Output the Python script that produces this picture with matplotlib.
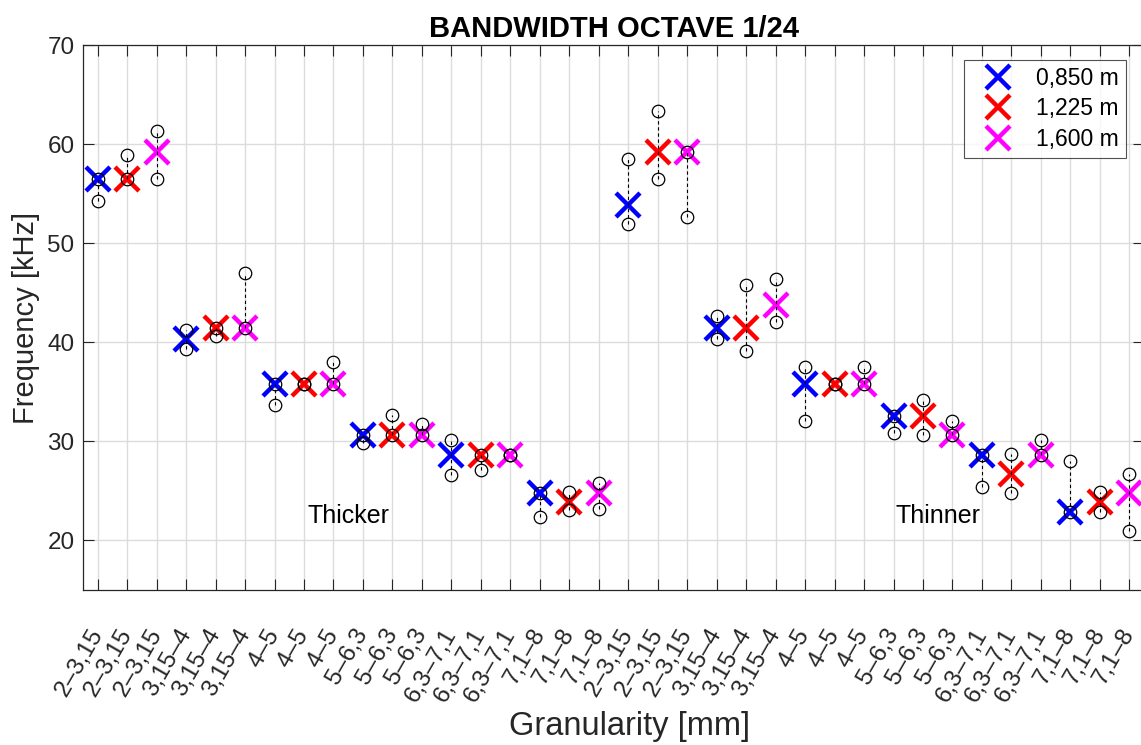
import matplotlib
matplotlib.use("Agg")
import matplotlib.pyplot as plt
import numpy as np

plt.rcParams['font.family'] = ['Liberation Sans', 'DejaVu Sans']

# Granularity classes, repeated for the thicker and thinner halves
granularity = ["2–3,15", "3,15–4", "4–5", "5–6,3", "6,3–7,1", "7,1–8"]
distances = ["0,850 m", "1,225 m", "1,600 m"]
series_colors = ["#0000ff", "#ff0000", "#ff00ff"]

tick_labels = [g for half in range(2) for g in granularity for _ in distances]

# Central frequency (kHz) per bar position, and the min / max of the measurements
center = [56.5, 56.5, 59.25, 40.3, 41.4, 41.4, 35.8, 35.8, 35.8,
          30.6, 30.6, 30.6, 28.6, 28.6, 28.6, 24.8, 23.9, 24.8,
          53.85, 59.25, 59.25, 41.4, 41.4, 43.8, 35.8, 35.8, 35.8,
          32.6, 32.6, 30.6, 28.6, 26.7, 28.6, 22.9, 23.85, 24.8]
low = [54.25, 56.5, 56.5, 39.35, 40.6, 41.4, 33.7, 35.8, 35.8,
       29.85, 30.6, 30.6, 26.65, 27.1, 28.6, 22.35, 23.05, 23.15,
       51.9, 56.5, 52.6, 40.3, 39.1, 42.05, 32.1, 35.8, 35.8,
       30.85, 30.6, 30.6, 25.35, 24.75, 28.6, 22.9, 22.85, 21.0]
high = [56.5, 58.95, 61.3, 41.2, 41.4, 46.95, 35.8, 35.8, 38.05,
        30.6, 32.7, 31.8, 30.1, 28.6, 28.6, 24.8, 24.9, 25.85,
        58.55, 63.35, 59.25, 42.7, 45.75, 46.35, 37.55, 35.8, 37.5,
        32.6, 34.2, 32.1, 28.6, 28.7, 30.1, 28.05, 24.85, 26.7]

fig = plt.figure(figsize=(11.41, 7.45), dpi=100)
ax = fig.add_axes([0.0727, 0.208, 0.93, 0.7315])

x = np.arange(1, len(center) + 1)
handles = []
for k, (name, col) in enumerate(zip(distances, series_colors)):
    idx = np.arange(k, len(center), len(distances))
    h, = ax.plot(x[idx], np.array(center)[idx], linestyle='none', marker='x',
                 markersize=17, markeredgewidth=3.2, color=col, label=name, zorder=3)
    handles.append(h)

# Spread of each measurement: dashed range with open circles at both ends
for xi, lo, hi in zip(x, low, high):
    ax.plot([xi, xi], [lo, hi], linestyle=(0, (3, 2.5)), color='black',
            linewidth=0.8, zorder=4)
    ax.plot([xi, xi], [lo, hi], linestyle='none', marker='o', markersize=9,
            markerfacecolor='none', markeredgecolor='black',
            markeredgewidth=0.9, zorder=5)

ax.set_xlim(0.5, len(center) + 0.5)
ax.set_ylim(15, 70)
ax.set_yticks(np.arange(20, 71, 10))
ax.set_xticks(x)
ax.set_xticklabels(tick_labels, rotation=60, ha='right', va='center',
                   rotation_mode='anchor')

ax.grid(True, color='#dcdcdc', linewidth=1.0)
ax.set_axisbelow(True)
ax.tick_params(axis='both', direction='in', length=8, width=0.8,
               colors='#262626', labelsize=17.5, top=True, right=True)
ax.tick_params(axis='x', pad=29)
ax.tick_params(axis='y', pad=6)
for sp in ax.spines.values():
    sp.set_color('#262626')
    sp.set_linewidth(0.9)

ax.set_title("BANDWIDTH OCTAVE 1/24", fontsize=21, fontweight='bold', pad=6)
ax.set_ylabel("Frequency [kHz]", fontsize=21, color='#262626')
ax.yaxis.set_label_coords(-0.0405, 0.5)
ax.set_xlabel("Granularity [mm]", fontsize=23.5, color='#262626')
ax.xaxis.set_label_coords(0.5155, -0.222)

ax.text(9.5, 22.5, "Thicker", fontsize=18, ha='center', va='center')
ax.text(29.5, 22.5, "Thinner", fontsize=18, ha='center', va='center')

leg = ax.legend(handles=handles, loc='upper right', bbox_to_anchor=(0.9825, 0.973),
                fontsize=16.5, frameon=True, fancybox=False, edgecolor='#262626',
                handlelength=2.4, handletextpad=0.45, borderpad=0.3,
                labelspacing=0.33, borderaxespad=0)
leg.get_frame().set_linewidth(0.8)

fig.savefig("out.png", dpi=100, facecolor='white')
